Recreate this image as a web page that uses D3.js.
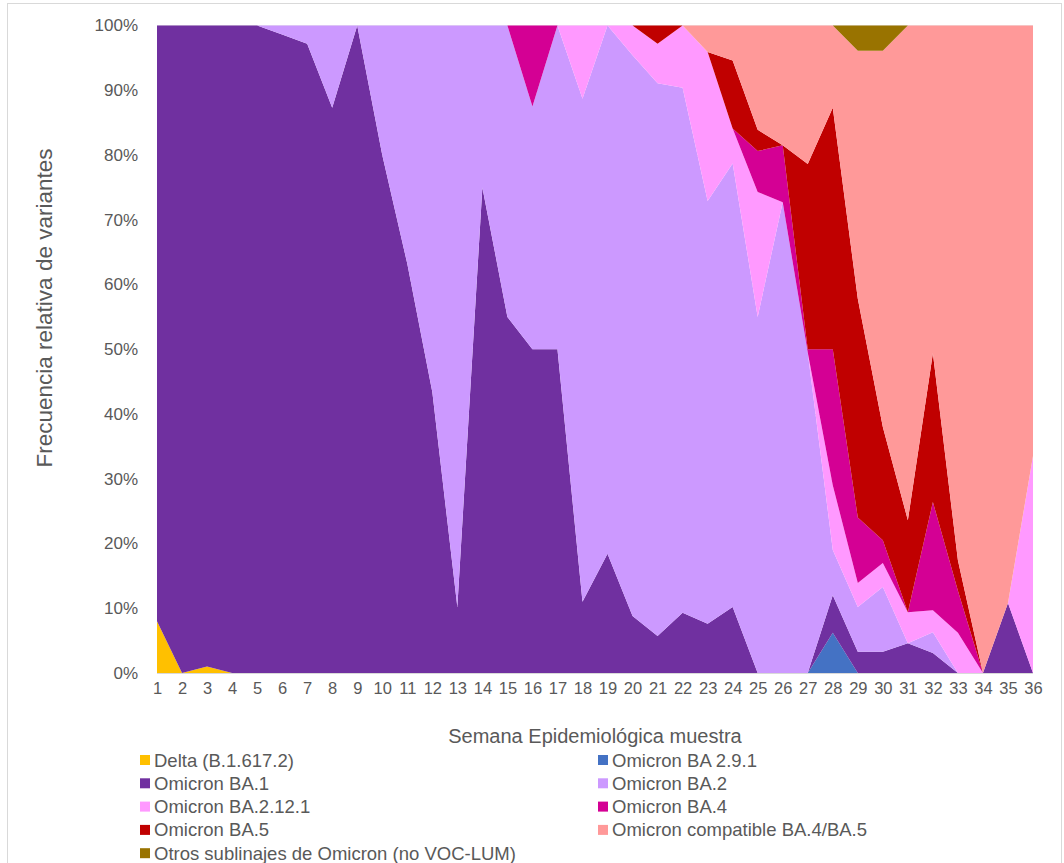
<!DOCTYPE html>
<html>
<head>
<meta charset="utf-8">
<script src="https://cdn.jsdelivr.net/npm/d3@7"></script>
<style>
  body { margin: 0; background: #fff; }
  text { font-family: "Liberation Sans", Arial, sans-serif; fill: #595959; }
</style>
</head>
<body>
<div id="chart"></div>
<script>
// semanas epidemiologicas
const weeks = [1,2,3,4,5,6,7,8,9,10,11,12,13,14,15,16,17,18,19,20,21,22,23,24,25,26,27,28,29,30,31,32,33,34,35,36];

// porcentaje por variante y semana
const delta  = [8,0,1,0,0,0,0,0,0,0,0,0,0,0,0,0,0,0,0,0,0,0,0,0,0,0,0,0,0,0,0,0,0,0,0,0];
const ba291  = [0,0,0,0,0,0,0,0,0,0,0,0,0,0,0,0,0,0,0,0,0,0,0,0,0,0,0,6.2,0,0,0,0,0,0,0,0];
const ba1    = [92,100,99,100,100,98.6,97.2,87.3,100,80,63.2,43.4,10.2,75,55,50,50,11,18.4,8.8,5.7,9.3,7.6,10.2,0,0,0,5.8,3.3,3.3,4.6,3.1,0,0,10.8,0];
const ba2    = [0,0,0,0,0,1.4,2.8,12.7,0,20,36.8,56.6,89.8,25,45,37.5,50,77.7,81.6,86.6,85.4,81.1,65.3,68.5,55,72.7,49.5,7,6.9,10,0,3.2,0,0,0,0];
const ba2121 = [0,0,0,0,0,0,0,0,0,0,0,0,0,0,0,0,0,11.3,0,4.6,6.1,9.6,23,5.4,19.3,0,0,10,3.7,3.7,4.8,3.4,6.2,0,0,33.5];
const ba4    = [0,0,0,0,0,0,0,0,0,0,0,0,0,0,0,12.5,0,0,0,0,0,0,0,0,6.3,8.8,0.5,21,10.1,3.5,0,16.7,6.5,0,0,0];
const ba5    = [0,0,0,0,0,0,0,0,0,0,0,0,0,0,0,0,0,0,0,0,2.8,0,0,10.5,3.3,0,28.6,37.3,33.8,17.5,14.2,23,4.7,0,0,0];
const compat = [0,0,0,0,0,0,0,0,0,0,0,0,0,0,0,0,0,0,0,0,0,0,4.1,5.4,16.1,18.5,21.4,12.7,38.3,58.1,76.4,50.6,82.6,100,89.2,66.5];
const otros  = [0,0,0,0,0,0,0,0,0,0,0,0,0,0,0,0,0,0,0,0,0,0,0,0,0,0,0,0,3.9,3.9,0,0,0,0,0,0];

const yTicks = [0, 0.1, 0.2, 0.3, 0.4, 0.5, 0.6, 0.7, 0.8, 0.9, 1];

const series = [
  { key: "delta",  name: "Delta (B.1.617.2)", color: "#FFC000", values: delta },
  { key: "ba291",  name: "Omicron BA 2.9.1", color: "#4472C4", values: ba291 },
  { key: "ba1",    name: "Omicron BA.1", color: "#7030A0", values: ba1 },
  { key: "ba2",    name: "Omicron BA.2", color: "#CC99FF", values: ba2 },
  { key: "ba2121", name: "Omicron BA.2.12.1", color: "#FF99FF", values: ba2121 },
  { key: "ba4",    name: "Omicron BA.4", color: "#D40094", values: ba4 },
  { key: "ba5",    name: "Omicron BA.5", color: "#C00000", values: ba5 },
  { key: "compat", name: "Omicron compatible BA.4/BA.5", color: "#FF9999", values: compat },
  { key: "otros",  name: "Otros sublinajes de Omicron (no VOC-LUM)", color: "#997300", values: otros }
];

const width = 1064, height = 863;
const margin = { top: 25.5, right: 31, bottom: 190, left: 157 };

const rows = weeks.map((w, i) => {
  const r = { week: w };
  series.forEach(s => r[s.key] = s.values[i]);
  return r;
});

const stack = d3.stack()
  .keys(series.map(s => s.key))
  .order(d3.stackOrderNone)
  .offset(d3.stackOffsetExpand);
const stacked = stack(rows);

const x = d3.scaleLinear().domain([1, 36]).range([margin.left, width - margin.right]);
const y = d3.scaleLinear().domain([0, 1]).range([height - margin.bottom, margin.top]);

const svg = d3.select("#chart").append("svg")
  .attr("width", width)
  .attr("height", height);

// chart border
svg.append("rect")
  .attr("x", 7.5).attr("y", 3.5)
  .attr("width", 1054).attr("height", 880)
  .attr("fill", "none")
  .attr("stroke", "#D9D9D9");

// gridlines
svg.append("g")
  .selectAll("line")
  .data(yTicks)
  .join("line")
  .attr("x1", x(1)).attr("x2", x(36))
  .attr("y1", d => y(d) + 0.5).attr("y2", d => y(d) + 0.5)
  .attr("stroke", "#D9D9D9");

const area = d3.area()
  .x(d => x(d.data.week))
  .y0(d => y(d[0]))
  .y1(d => y(d[1]));

svg.append("g")
  .selectAll("path")
  .data(stacked)
  .join("path")
  .attr("d", area)
  .attr("fill", (d, i) => series[i].color);

// bottom axis line
svg.append("line")
  .attr("x1", x(1)).attr("x2", x(36))
  .attr("y1", y(0) + 0.5).attr("y2", y(0) + 0.5)
  .attr("stroke", "#D9D9D9");

// axes
const yAxis = d3.axisLeft(y)
  .tickValues(yTicks)
  .tickFormat(d3.format(".0%"))
  .tickSize(0)
  .tickPadding(19);
svg.append("g")
  .attr("transform", `translate(${margin.left},0)`)
  .call(yAxis)
  .call(g => g.select(".domain").remove())
  .call(g => g.selectAll("text").attr("font-size", 17).attr("fill", "#595959").attr("font-family", "Liberation Sans, Arial, sans-serif"));

const xAxis = d3.axisBottom(x)
  .tickValues(weeks)
  .tickFormat(d3.format("d"))
  .tickSize(0)
  .tickPadding(9);
svg.append("g")
  .attr("transform", `translate(0,${y(0)})`)
  .call(xAxis)
  .call(g => g.select(".domain").remove())
  .call(g => g.selectAll("text").attr("font-size", 16.5).attr("fill", "#595959").attr("font-family", "Liberation Sans, Arial, sans-serif"));

// axis titles
svg.append("text")
  .attr("x", (x(1) + x(36)) / 2)
  .attr("y", 743)
  .attr("text-anchor", "middle")
  .attr("font-size", 20)
  .text("Semana Epidemiológica muestra");

svg.append("text")
  .attr("transform", "translate(52,308) rotate(-90)")
  .attr("text-anchor", "middle")
  .attr("font-size", 22.5)
  .text("Frecuencia relativa de variantes");

// legend
const legend = svg.append("g");
const item = legend.selectAll("g")
  .data(series)
  .join("g")
  .attr("transform", (d, i) => `translate(${i % 2 === 0 ? 140 : 598},${760 + Math.floor(i / 2) * 23.3})`);

item.append("rect")
  .attr("x", 0).attr("y", -5)
  .attr("width", 10).attr("height", 10)
  .attr("fill", d => d.color);

item.append("text")
  .attr("x", 14)
  .attr("y", 6.5)
  .attr("font-size", 18.5)
  .text(d => d.name);
</script>
</body>
</html>
